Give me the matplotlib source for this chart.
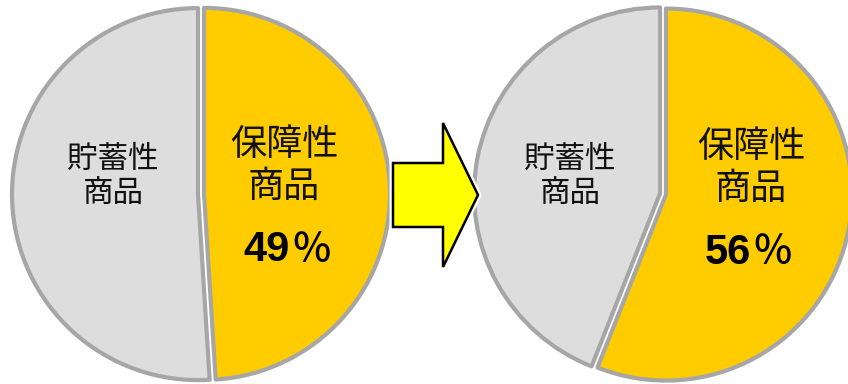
import matplotlib
matplotlib.use("Agg")
import matplotlib.pyplot as plt
import matplotlib.patches as mpatches
import matplotlib.patheffects as pe

plt.rcParams['font.family'] = ['Noto Sans CJK JP', 'DejaVu Sans']

# Share of protection-type vs savings-type products, before and after
categories = ["保障性\n商品", "貯蓄性\n商品"]
share_before = [49, 51]
share_after = [56, 44]

colors = ["#ffcc00", "#dddddd"]
edge_color = "#a6a6a6"

W, H = 848, 384
fig = plt.figure(figsize=(W / 100, H / 100), dpi=100)
ax = fig.add_axes([0, 0, 1, 1])

radius = 186
gap = 3
pies = [
    dict(values=share_before, center=(201, H - 194),
         gray_xy=(113, H - 177), yel_xy=(284, H - 166), pct_xy=(290, H - 250)),
    dict(values=share_after, center=(663, H - 194),
         gray_xy=(570, H - 177), yel_xy=(751, H - 168), pct_xy=(751, H - 253)),
]

for p in pies:
    ax.pie(p["values"], colors=colors, startangle=90, counterclock=False,
           center=p["center"], radius=radius,
           explode=[gap, gap],
           wedgeprops=dict(edgecolor=edge_color, linewidth=3.0,
                           joinstyle="round"))
    ax.text(*p["gray_xy"], categories[1], ha="center", va="center",
            fontsize=22, linespacing=1.2, color="#111111")
    ax.text(*p["yel_xy"], categories[0], ha="center", va="center",
            fontsize=26, linespacing=1.2, color="#111111")
    # percentage: bold digits followed by a full-width percent sign
    px, py = p["pct_xy"]
    ax.text(px, py, f"{p['values'][0]}", ha="right", va="center",
            fontsize=30, fontweight="bold", color="#000000",
            family=["Liberation Sans", "DejaVu Sans"])
    ax.text(px + 1, py, "％", ha="left", va="center",
            fontsize=29, fontweight="medium", color="#000000",
            family=["Noto Sans CJK JP", "DejaVu Sans"])

# Arrow between the two pies
arrow = mpatches.FancyArrow(393, H - 195, 85, 0, width=64, head_width=144,
                            head_length=35, length_includes_head=True,
                            facecolor="#ffff00", edgecolor="#000000",
                            linewidth=1.8, joinstyle="miter", zorder=5)
arrow.set_path_effects([pe.Stroke(linewidth=5, foreground="white"),
                        pe.Normal()])
ax.add_patch(arrow)

ax.set_xlim(0, W)
ax.set_ylim(0, H)
ax.set_aspect("auto")
ax.axis("off")

fig.savefig("out.png", dpi=100, facecolor="white")
